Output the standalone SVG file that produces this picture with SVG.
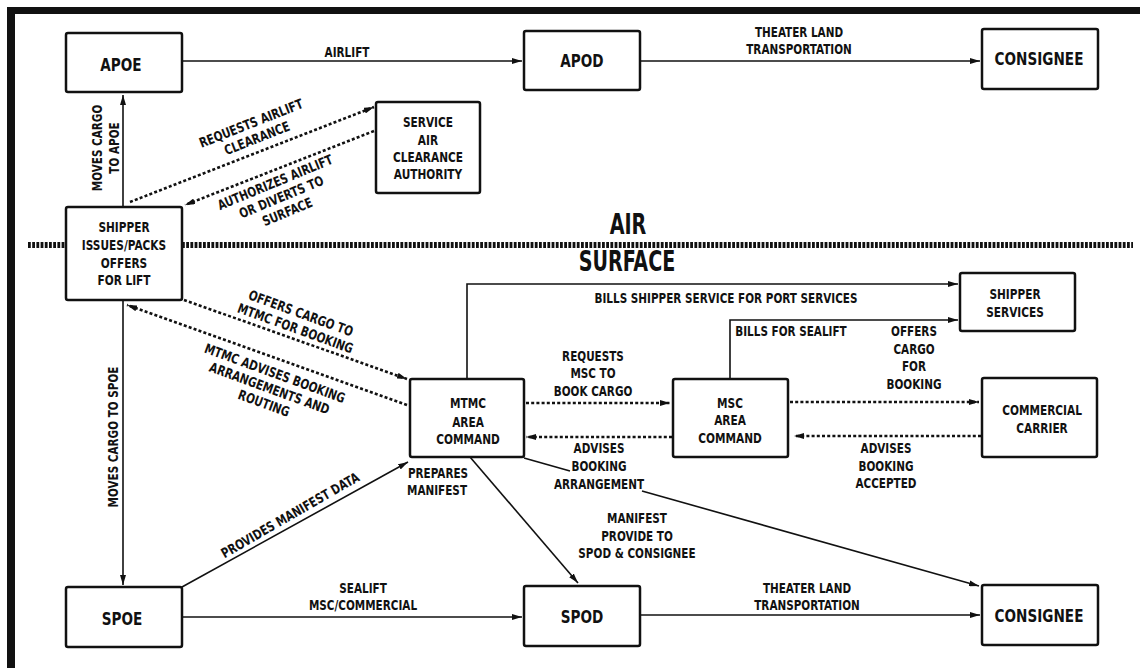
<svg xmlns="http://www.w3.org/2000/svg" width="1140" height="668" viewBox="0 0 1140 668">
<defs>
<style>
text{font-family:"Liberation Sans Narrow","DejaVu Sans Condensed","Liberation Sans",sans-serif;font-weight:bold;fill:#111;text-anchor:middle;transform-box:fill-box;transform-origin:center}
.big{font-size:18px;transform:scaleX(.84)}
.nd{font-size:14px;transform:scaleX(.84)}
.lb{font-size:13.5px;transform:scaleX(.86)}
.hd{font-size:28px;transform:scaleX(.76)}
.box{fill:#fff;stroke:#111;stroke-width:2.5}
.ln{fill:none;stroke:#111;stroke-width:1.6}
.dt{fill:none;stroke:#111;stroke-width:2.6;stroke-dasharray:3 2.2}
.dv{stroke:#111;stroke-width:6;stroke-dasharray:2.8 1.4}
</style>
<marker id="ah" viewBox="0 0 10 6" refX="10" refY="3" markerWidth="10" markerHeight="6" markerUnits="userSpaceOnUse" orient="auto"><path d="M0,0 L10,3 L0,6 z" fill="#111"/></marker>
</defs>
<rect width="1140" height="668" fill="#fff"/>
<g id="frame">
<rect x="7" y="7" width="1133" height="7" fill="#111"/>
<rect x="7" y="7" width="8" height="661" fill="#111"/>
<line class="dv" x1="28" y1="245" x2="66" y2="245"/>
<line class="dv" x1="182" y1="245" x2="1133" y2="245"/>
<text class="hd" x="628" y="234">AIR</text>
<text class="hd" x="627" y="271">SURFACE</text>
</g>
<g id="connectors">
<line class="ln" x1="182" y1="61" x2="522" y2="61" marker-end="url(#ah)"/>
<line class="ln" x1="640" y1="61" x2="980" y2="61" marker-end="url(#ah)"/>
<line class="ln" x1="123" y1="207" x2="123" y2="95" marker-end="url(#ah)"/>
<line class="ln" x1="123" y1="300" x2="123" y2="585" marker-end="url(#ah)"/>
<line class="ln" x1="182" y1="587" x2="408" y2="462" marker-end="url(#ah)"/>
<line class="ln" x1="182" y1="617" x2="522" y2="617" marker-end="url(#ah)"/>
<line class="ln" x1="640" y1="615" x2="980" y2="615" marker-end="url(#ah)"/>
<line class="ln" x1="470" y1="457" x2="578" y2="583" marker-end="url(#ah)"/>
<line class="ln" x1="524" y1="458" x2="570" y2="471"/>
<line class="ln" x1="642" y1="491" x2="979" y2="586" marker-end="url(#ah)"/>
<polyline class="ln" points="467,379 467,284 958,284" marker-end="url(#ah)"/>
<polyline class="ln" points="730,379 730,320 958,320" marker-end="url(#ah)"/>
<line class="dt" x1="130" y1="202" x2="374" y2="107" marker-end="url(#ah)"/>
<line class="dt" x1="374" y1="131" x2="185" y2="205" marker-end="url(#ah)"/>
<line class="dt" x1="184" y1="300" x2="407" y2="379" marker-end="url(#ah)"/>
<line class="dt" x1="407" y1="405" x2="127" y2="305" marker-end="url(#ah)"/>
<line class="dt" x1="526" y1="403" x2="670" y2="403" marker-end="url(#ah)"/>
<line class="dt" x1="672" y1="437" x2="526" y2="437" marker-end="url(#ah)"/>
<line class="dt" x1="790" y1="402" x2="979" y2="402" marker-end="url(#ah)"/>
<line class="dt" x1="981" y1="436" x2="794" y2="436" marker-end="url(#ah)"/>
<text class="lb" x="347" y="57">AIRLIFT</text>
<text class="lb" x="799" y="37">THEATER LAND</text>
<text class="lb" x="799" y="54">TRANSPORTATION</text>
<g transform="translate(102,148) rotate(-90)"><text class="lb" x="0" y="0">MOVES CARGO</text></g>
<g transform="translate(119,148) rotate(-90)"><text class="lb" x="0" y="0">TO APOE</text></g>
<g transform="translate(118,437) rotate(-90)"><text class="lb" x="0" y="0">MOVES CARGO TO SPOE</text></g>
<g transform="translate(251,123) rotate(-21.5)">
<text class="lb" x="0" y="5">REQUESTS AIRLIFT</text>
<text class="lb" x="0" y="21">CLEARANCE</text>
</g>
<g transform="translate(275,182) rotate(-22.5)">
<text class="lb" x="0" y="5">AUTHORIZES AIRLIFT</text>
<text class="lb" x="0" y="21">OR DIVERTS TO</text>
<text class="lb" x="0" y="37">SURFACE</text>
</g>
<g transform="translate(301,313) rotate(20)">
<text class="lb" x="0" y="5">OFFERS CARGO TO</text>
<text class="lb" x="0" y="21">MTMC FOR BOOKING</text>
</g>
<g transform="translate(275,373) rotate(20)">
<text class="lb" x="0" y="5">MTMC ADVISES BOOKING</text>
<text class="lb" x="0" y="21">ARRANGEMENTS AND</text>
<text class="lb" x="0" y="37">ROUTING</text>
</g>
<g transform="translate(290,515) rotate(-30)"><text class="lb" x="0" y="5">PROVIDES MANIFEST DATA</text></g>
<text class="lb" x="726" y="303">BILLS SHIPPER SERVICE FOR PORT SERVICES</text>
<text class="lb" x="791" y="336">BILLS FOR SEALIFT</text>
<text class="lb" x="593" y="361">REQUESTS</text>
<text class="lb" x="593" y="378">MSC TO</text>
<text class="lb" x="593" y="396">BOOK CARGO</text>
<text class="lb" x="599" y="453">ADVISES</text>
<text class="lb" x="599" y="471">BOOKING</text>
<text class="lb" x="599" y="489">ARRANGEMENT</text>
<text class="lb" x="914" y="336">OFFERS</text>
<text class="lb" x="914" y="354">CARGO</text>
<text class="lb" x="914" y="371">FOR</text>
<text class="lb" x="914" y="389">BOOKING</text>
<text class="lb" x="886" y="453">ADVISES</text>
<text class="lb" x="886" y="471">BOOKING</text>
<text class="lb" x="886" y="488">ACCEPTED</text>
<text class="lb" x="438" y="478">PREPARES</text>
<text class="lb" x="437" y="495">MANIFEST</text>
<text class="lb" x="637" y="523">MANIFEST</text>
<text class="lb" x="637" y="541">PROVIDE TO</text>
<text class="lb" x="637" y="558">SPOD &amp; CONSIGNEE</text>
<text class="lb" x="363" y="593">SEALIFT</text>
<text class="lb" x="363" y="610">MSC/COMMERCIAL</text>
<text class="lb" x="807" y="593">THEATER LAND</text>
<text class="lb" x="807" y="610">TRANSPORTATION</text>
</g>
<g id="apoe"><rect class="box" x="66" y="33" width="116" height="59" rx="2"/><text class="big" x="121" y="71">APOE</text></g>
<g id="apod"><rect class="box" x="524" y="31" width="116" height="59" rx="2"/><text class="big" x="582" y="67">APOD</text></g>
<g id="consignee-air"><rect class="box" x="982" y="29" width="116" height="60" rx="2"/><text class="big" x="1039" y="65">CONSIGNEE</text></g>
<g id="saca"><rect class="box" x="376" y="102" width="104" height="91" rx="2"/>
<text class="nd" x="428" y="127">SERVICE</text><text class="nd" x="428" y="145">AIR</text><text class="nd" x="428" y="162">CLEARANCE</text><text class="nd" x="428" y="179">AUTHORITY</text></g>
<g id="shipper"><rect class="box" x="66" y="207" width="116" height="93" rx="2"/>
<text class="nd" x="124" y="232">SHIPPER</text><text class="nd" x="124" y="250">ISSUES/PACKS</text><text class="nd" x="124" y="268">OFFERS</text><text class="nd" x="124" y="285">FOR LIFT</text></g>
<g id="shipper-services"><rect class="box" x="960" y="273" width="115" height="58" rx="2"/>
<text class="nd" x="1015" y="299">SHIPPER</text><text class="nd" x="1015" y="317">SERVICES</text></g>
<g id="mtmc"><rect class="box" x="410" y="379" width="114" height="78" rx="2"/>
<text class="nd" x="468" y="408">MTMC</text><text class="nd" x="468" y="427">AREA</text><text class="nd" x="468" y="444">COMMAND</text></g>
<g id="msc"><rect class="box" x="673" y="379" width="115" height="78" rx="2"/>
<text class="nd" x="730" y="408">MSC</text><text class="nd" x="730" y="425">AREA</text><text class="nd" x="730" y="443">COMMAND</text></g>
<g id="commercial"><rect class="box" x="982" y="378" width="115" height="79" rx="2"/>
<text class="nd" x="1042" y="415">COMMERCIAL</text><text class="nd" x="1042" y="433">CARRIER</text></g>
<g id="spoe"><rect class="box" x="66" y="587" width="116" height="60" rx="2"/><text class="big" x="122" y="625">SPOE</text></g>
<g id="spod"><rect class="box" x="524" y="586" width="116" height="60" rx="2"/><text class="big" x="582" y="623">SPOD</text></g>
<g id="consignee-surface"><rect class="box" x="982" y="585" width="116" height="60" rx="2"/><text class="big" x="1039" y="622">CONSIGNEE</text></g>
</svg>
